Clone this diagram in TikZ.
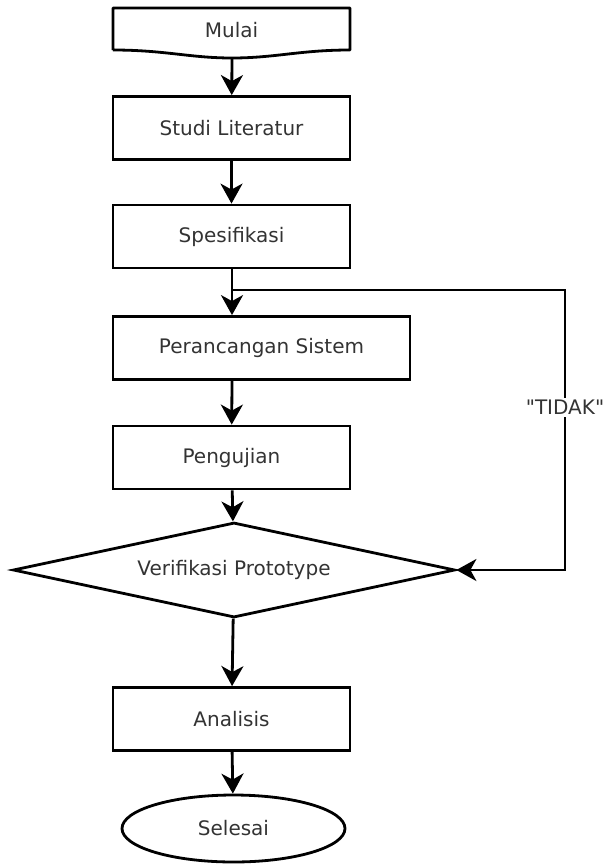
\documentclass[tikz,border=0pt]{standalone}
\usepackage{fontspec}
\setmainfont{DejaVu Sans}[Ligatures=TeXOff]
\usetikzlibrary{shapes.geometric, arrows.meta, calc}
\definecolor{TextGry}{HTML}{333333}
\begin{document}
\begin{tikzpicture}[
  x=1pt, y=-1pt,
  font=\fontsize{20}{24}\selectfont,
  every node/.style={align=center, text=TextGry},
  proc/.style  = {draw, line width=2.8pt, minimum width=237pt, minimum height=63pt},
  cond/.style  = {draw, diamond, aspect=4.65, line width=2.8pt, minimum width=442pt,
                  minimum height=95pt, inner sep=0pt},
  term/.style  = {draw, ellipse, line width=2.8pt, minimum width=223pt,
                  minimum height=67pt},
  flow/.style  = {-{Stealth[length=20pt,width=22pt,inset=6pt]}, line width=2.8pt},
]
\useasboundingbox (0,0) rectangle (613,865);
\node (mulai)  at (231.5, 30) {Mulai};
\draw[line width=2.8pt, line join=round]
      (113,50) -- (113,8) -- (350,8) -- (350,50)
      .. controls (300,50) and (275,58) .. (232,58)
      .. controls (190,58) and (165,50) .. (113,50);
\coordinate (mulai_b) at (232,58);
\node[proc] (studi)  at (231.5, 128  ) {Studi Literatur};
\node[proc] (spes)   at (231.5, 236.5) {Spesifikasi};
\node[proc, minimum width=297pt] (rancang) at (261.5, 348) {Perancangan Sistem};
\node[proc] (uji)    at (231.5, 457.5) {Pengujian};
\node[cond] (verif)  at (234,   570  ) {Verifikasi Prototype};
\node[proc] (anal)   at (231.5, 719  ) {Analisis};
\node[term] (selesai)at (233.5, 828.5) {Selesai};

\coordinate (gabung) at (232,290);
\coordinate (kanan)  at (565,290);

\draw[flow] (mulai_b) -- (studi);
\draw[flow] (studi) -- (spes);
\draw[flow] (spes.south -| gabung) -- (rancang.north -| gabung);
\draw[flow] (rancang.south -| gabung) -- (uji);
\draw[flow] (uji) -- (verif);
\draw[flow] (verif) -- (anal);
\draw[flow] (anal) -- (selesai);
\draw[flow] (gabung) -- (kanan) |- node[pos=0.21, fill=white, inner sep=2pt]{"TIDAK"} (verif.east);
\end{tikzpicture}
\end{document}
